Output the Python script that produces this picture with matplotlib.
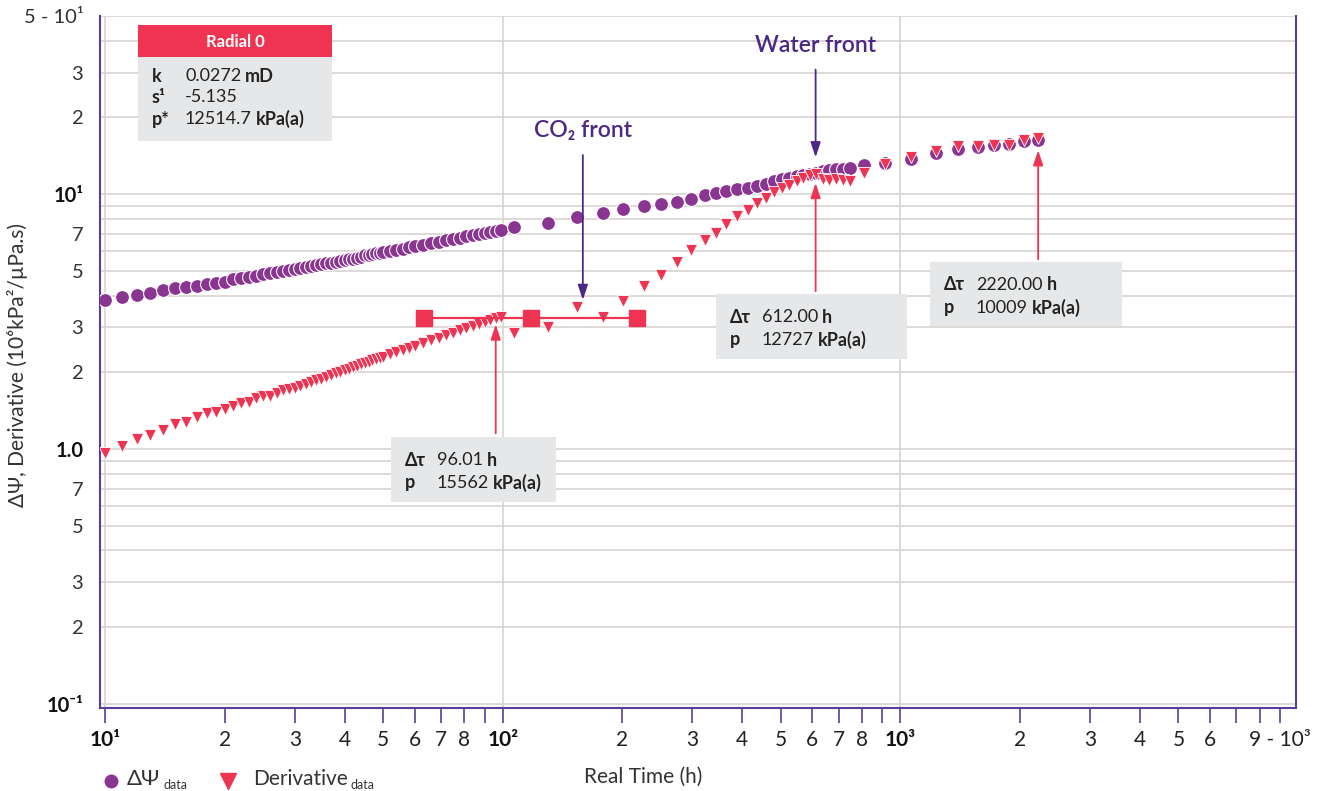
import matplotlib
matplotlib.use("Agg")
import matplotlib.pyplot as plt
from matplotlib.lines import Line2D
from matplotlib.patches import Rectangle
from matplotlib.ticker import FixedLocator, FixedFormatter, NullLocator

plt.rcParams['font.family'] = ['Lato', 'DejaVu Sans']

# czas (h) oraz odczyty: zmiana pseudociśnienia i pochodna
time_h = [10, 11, 12, 13, 14, 15, 16, 17, 18, 19,
          20, 21, 22, 23, 24, 25, 26, 27, 28, 29,
          30, 31, 32, 33, 34, 35, 36, 37, 38, 39,
          40, 41, 42, 43, 44, 45, 46, 47, 48, 49,
          50, 52, 54, 56, 58, 60, 63, 66, 69, 72,
          75, 78, 81, 84, 87, 90, 93, 96, 99, 107,
          130, 154, 179, 201, 226, 250, 274, 298, 322, 343,
          365, 389, 413, 435, 458, 482, 505, 526, 548, 570,
          593, 612, 637, 663, 690, 718, 748, 812, 917, 1066,
          1232, 1398, 1570, 1723, 1879, 2049, 2220]

dpsi = [3.85, 3.95, 4.02, 4.08, 4.19, 4.27, 4.33, 4.38, 4.44, 4.49,
        4.54, 4.63, 4.69, 4.73, 4.79, 4.84, 4.89, 4.95, 4.99, 5.04,
        5.09, 5.14, 5.18, 5.23, 5.27, 5.31, 5.35, 5.39, 5.43, 5.47,
        5.51, 5.55, 5.59, 5.64, 5.69, 5.75, 5.79, 5.83, 5.87, 5.90,
        5.94, 6.00, 6.06, 6.12, 6.18, 6.24, 6.33, 6.42, 6.51, 6.59,
        6.67, 6.75, 6.83, 6.90, 6.98, 7.06, 7.12, 7.18, 7.24, 7.43,
        7.71, 8.13, 8.43, 8.74, 8.98, 9.14, 9.31, 9.56, 9.91, 10.06,
        10.30, 10.46, 10.62, 10.77, 11.00, 11.28, 11.48, 11.62, 11.83, 11.94,
        12.05, 12.11, 12.30, 12.49, 12.52, 12.55, 12.68, 12.98, 13.30, 13.78,
        14.49, 14.99, 15.30, 15.54, 15.78, 16.15, 16.36]

deriv = [0.965, 1.025, 1.094, 1.14, 1.19, 1.25, 1.28, 1.33, 1.38, 1.40,
         1.44, 1.48, 1.51, 1.53, 1.58, 1.62, 1.62, 1.66, 1.70, 1.72,
         1.74, 1.77, 1.80, 1.83, 1.86, 1.89, 1.92, 1.95, 1.98, 2.01,
         2.04, 2.07, 2.10, 2.12, 2.15, 2.18, 2.20, 2.23, 2.25, 2.28,
         2.30, 2.35, 2.40, 2.45, 2.49, 2.54, 2.60, 2.67, 2.73, 2.80,
         2.86, 2.92, 2.98, 3.04, 3.10, 3.16, 3.22, 3.28, 3.30, 2.86,
         3.02, 3.62, 3.31, 3.82, 4.38, 4.83, 5.42, 6.04, 6.61, 7.06,
         7.62, 8.20, 8.66, 9.20, 9.62, 10.20, 10.62, 10.84, 11.24, 11.58,
         11.86, 12.05, 11.51, 11.41, 11.44, 11.34, 11.24, 12.11, 13.18, 13.99,
         14.76, 15.40, 15.40, 15.60, 15.60, 16.36, 16.56]

# poziomy odcinek stabilizacji (radial flow)
radial_t = [63.5, 117.5, 218]
radial_level = 3.28

# znaczniki: czas, poziom grotu, poziom ogona
marker_t = [96.01, 612.0, 2220.0]
marker_head = [3.16, 11.35, 15.25]
marker_tail = [1.124, 4.06, 5.42]
marker_p = ["15562", "12727", "10009"]
marker_dt = ["96.01", "612.00", "2220.00"]

# fronty
front_t = [159, 612]
front_head = [3.75, 13.6]
front_tail = [14.6, 31.6]
front_text_y = [17.8, 38.2]
front_names = ["CO\u2082 front", "Water front"]

x_ticks = [10, 20, 30, 40, 50, 60, 70, 80, 90,
           100, 200, 300, 400, 500, 600, 700, 800, 900,
           1000, 2000, 3000, 4000, 5000, 6000, 7000, 8000, 9000]
x_labels = ["10\u00b9", "2", "3", "4", "5", "6", "7", "8", "",
            "10\u00b2", "2", "3", "4", "5", "6", "7", "8", "",
            "10\u00b3", "2", "3", "4", "5", "6", "", "", "9 - 10\u00b3"]
y_ticks = [0.1, 0.2, 0.3, 0.5, 0.7, 1, 2, 3, 5, 7, 10, 20, 30, 50]
y_labels = ["10\u207b\u00b9", "2", "3", "5", "7", "1.0", "2", "3", "5", "7",
            "10\u00b9", "2", "3", "5 - 10\u00b9"]
bold_labels = {"10\u00b9", "10\u00b2", "10\u00b3", "10\u207b\u00b9", "1.0"}

PURPLE = "#8b3593"
RED = "#ee3452"
DARK = "#4b2885"
SPINE = "#5a3c9c"
GRID = "#d8d3cf"
BOX = "#e6e7e8"
TXT = "#222222"

W, H = 1326, 791
fig = plt.figure(figsize=(W / 100, H / 100), dpi=100)
ax = fig.add_axes([100 / W, 1 - 708 / H, 1196 / W, 692 / H])
ax.set_xscale("log")
ax.set_yscale("log")
ax.set_xlim(9.71, 9880)
ax.set_ylim(0.0964, 50)

# siatka: poziomo co 1..9 w każdej dekadzie, pionowo tylko dekady
for e in [0.1, 1, 10]:
    for k in range(1, 10):
        if k * e <= 50:
            ax.axhline(k * e, color=GRID, lw=1.2, zorder=0.5)
for d in [10, 100, 1000]:
    ax.axvline(d, color=GRID, lw=1.2, zorder=0.5)

ax.xaxis.set_major_locator(FixedLocator(x_ticks))
ax.xaxis.set_major_formatter(FixedFormatter(x_labels))
ax.xaxis.set_minor_locator(NullLocator())
ax.yaxis.set_major_locator(FixedLocator(y_ticks))
ax.yaxis.set_major_formatter(FixedFormatter(y_labels))
ax.yaxis.set_minor_locator(NullLocator())
ax.tick_params(axis="x", which="major", length=11, width=1.2, color=SPINE,
               labelsize=15, pad=5, labelcolor=TXT)
ax.tick_params(axis="y", which="both", length=0, labelsize=14.5, pad=12,
               labelcolor="#333333")
for lab in ax.get_xticklabels() + ax.get_yticklabels():
    if lab.get_text() in bold_labels:
        lab.set_fontweight("bold")
        lab.set_color("#111111")

for s in ["left", "right", "bottom"]:
    ax.spines[s].set_color(SPINE)
    ax.spines[s].set_linewidth(1.5)
ax.spines["top"].set_visible(False)

# dane
ax.plot(time_h, dpsi, "o", color=PURPLE, ms=10, mec="white", mew=0.8, zorder=3)
ax.plot(time_h, deriv, "v", color=RED, ms=8.5, mec="white", mew=0.6, zorder=4)
ax.plot(radial_t, [radial_level] * len(radial_t), "-s", color=RED, ms=11,
        lw=1.6, zorder=5)

# strzałki znaczników
for t, h, tl in zip(marker_t, marker_head, marker_tail):
    ax.annotate("", xy=(t, h), xytext=(t, tl),
                arrowprops=dict(arrowstyle="-|>,head_length=0.9,head_width=0.3",
                                color=RED, lw=1.3), zorder=6)

# strzałki frontów
for t, h, tl, ty, name in zip(front_t, front_head, front_tail, front_text_y, front_names):
    ax.annotate("", xy=(t, h), xytext=(t, tl),
                arrowprops=dict(arrowstyle="-|>,head_length=0.9,head_width=0.3",
                                color=DARK, lw=1.3), zorder=6)
    ax.text(t, ty, name, ha="center", va="center", fontsize=16.5,
            fontweight="semibold", color=DARK, zorder=7)

renderer = fig.canvas.get_renderer()


def px_box(x0, y0, x1, y1, color):
    fig.add_artist(Rectangle((x0 / W, 1 - y1 / H), (x1 - x0) / W, (y1 - y0) / H,
                             transform=fig.transFigure, facecolor=color,
                             edgecolor="none", zorder=8))


def runs(x, y, parts, size=13, color=TXT, gap=4):
    # kolejne kawałki tekstu w jednej linii; część może być przesunięta w dół
    for s, w, *rest in parts:
        fs = rest[0] if rest else size
        dy = rest[1] if len(rest) > 1 else 0
        t = fig.text(x / W, 1 - (y + dy) / H, s, fontsize=fs, fontweight=w,
                     ha="left", va="center", color=color, zorder=9)
        x += t.get_window_extent(renderer=renderer).width + gap


# ramka z parametrami modelu
px_box(138, 25, 332, 57, RED)
px_box(138, 57, 332, 141, BOX)
fig.text(235 / W, 1 - 42 / H, "Radial 0", fontsize=12, fontweight="bold",
         color="white", ha="center", va="center", zorder=9)
rows = [("k", "0.0272", "mD"), ("s\u00b9", "-5.135", ""), ("p*", "12514.7", "kPa(a)")]
for i, (k, v, u) in enumerate(rows):
    y = 76 + i * 21.5
    runs(152, y, [(k, "bold")])
    runs(185, y, [(v, "normal"), (u, "bold")])

# ramki przy znacznikach
boxes = [(391, 437, 556, 502), (716, 294, 907, 359), (930, 262, 1122, 326)]
for (x0, y0, x1, y1), dt, p in zip(boxes, marker_dt, marker_p):
    px_box(x0, y0, x1, y1, BOX)
    runs(x0 + 14, y0 + 23, [("\u0394\u03c4", "bold")])
    runs(x0 + 14, y0 + 46, [("p", "bold")])
    runs(x0 + 46, y0 + 23, [(dt, "normal"), ("h", "bold")])
    runs(x0 + 46, y0 + 46, [(p, "normal"), ("kPa(a)", "bold")])

# opisy osi
fig.text(18 / W, 1 - 365 / H, "\u0394\u03a8, Derivative (10\u2076kPa\u00b2/\u00b5Pa.s)",
         rotation=90, fontsize=15, color="#333333", ha="center", va="center")
fig.text(643 / W, 1 - 777 / H, "Real Time (h)", fontsize=15, color="#333333",
         ha="center", va="center")

# legenda
fig.add_artist(Line2D([111 / W], [1 - 781 / H], marker="o", color=PURPLE, ms=9,
                      ls="none", transform=fig.transFigure))
runs(127, 779, [("\u0394\u03a8", "normal", 16), ("data", "normal", 9, 6)],
     color="#333333", gap=3)
fig.add_artist(Line2D([228 / W], [1 - 781 / H], marker="v", color=RED, ms=11,
                      ls="none", transform=fig.transFigure))
runs(253, 779, [("Derivative", "normal", 15), ("data", "normal", 9, 6)],
     color="#333333", gap=3)

fig.savefig("out.png", dpi=100)
